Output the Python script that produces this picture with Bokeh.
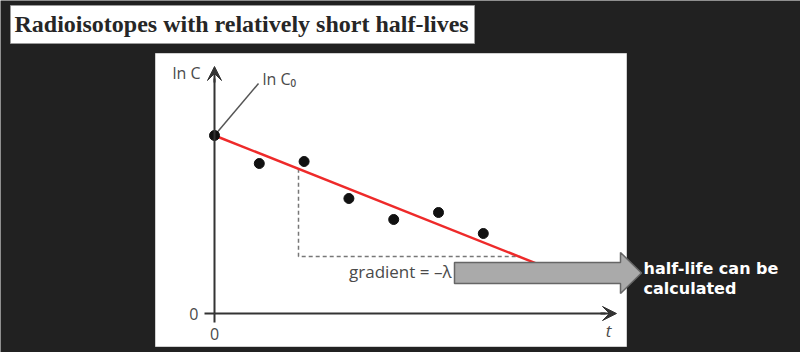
from bokeh.plotting import figure
from bokeh.models import Range1d, LinearAxis, FixedTicker, Arrow, VeeHead
from bokeh.core.properties import value
from bokeh.embed import file_html
from bokeh.resources import INLINE

# ---- data (arbitrary units) ----
t_points = [0, 1, 2, 3, 4, 5, 6]
lnC_points = [4.45, 3.75, 3.8, 2.875, 2.35, 2.525, 2.0]
fit_t = [0, 7.5]
fit_lnC = [4.45, 1.11]
tri_t = [1.875, 1.875, 6.83]
tri_lnC = [3.62, 1.425, 1.425]
x_tick_labels = {0: "0"}
y_tick_labels = {0: "0"}
title_text = "Radioisotopes with relatively short half-lives"
note_lines = ["half-life can be", "calculated"]

# ---- layout helpers (pixel -> data) ----
W, H = 800, 352
X0, SX = 214, 44.8
Y0, SY = 313, 40.0


def px_x(px):
    return (px - X0) / SX


def px_y(py):
    return (Y0 - py) / SY


BG = "#212121"
AX = "#333333"
TXT = "#4a4a4a"

p = figure(width=W, height=H, x_range=Range1d(px_x(0), px_x(W)),
           y_range=Range1d(px_y(H), px_y(0)), output_backend="svg",
           toolbar_location=None, x_axis_location=None, y_axis_location=None,
           min_border=0, background_fill_color=BG, border_fill_color=BG,
           outline_line_color=None)
p.xgrid.visible = False
p.ygrid.visible = False

# title box
p.quad(left=[px_x(10)], right=[px_x(474)], top=[px_y(5)], bottom=[px_y(43)],
       fill_color="white", line_color="#9a9a9a", line_width=1)
p.text(x=[px_x(14)], y=[px_y(23)], text=[title_text], text_font=value("Liberation Serif"),
       text_font_style="bold", text_font_size="24px", text_color="#262626",
       text_baseline="middle", text_align="left")

# white chart panel
p.quad(left=[px_x(155)], right=[px_x(626)], top=[px_y(53)], bottom=[px_y(346)],
       fill_color="white", line_color="#d0d0d0", line_width=1)

# axes through the origin
xaxis = LinearAxis(fixed_location=0, bounds=(0, px_x(605)), ticker=FixedTicker(ticks=[0]),
                   major_label_overrides=x_tick_labels, major_tick_out=9, major_tick_in=0,
                   major_tick_line_color=AX, major_tick_line_width=2,
                   axis_line_color=AX, axis_line_width=2, major_label_standoff=5,
                   major_label_text_font="Open Sans", major_label_text_font_size="16px",
                   major_label_text_color=TXT)
yaxis = LinearAxis(fixed_location=0, bounds=(0, px_y(78)), ticker=FixedTicker(ticks=[0]),
                   major_label_overrides=y_tick_labels, major_tick_out=10, major_tick_in=0,
                   major_tick_line_color=AX, major_tick_line_width=2,
                   axis_line_color=AX, axis_line_width=2, major_label_standoff=6,
                   major_label_text_font="Open Sans", major_label_text_font_size="16px",
                   major_label_text_color=TXT)
p.add_layout(xaxis, "below")
p.add_layout(yaxis, "left")
p.add_layout(Arrow(x_start=px_x(600), y_start=0, x_end=px_x(616), y_end=0,
                   line_color=AX, line_width=2,
                   end=VeeHead(size=14, fill_color=AX, line_color=AX)))
p.add_layout(Arrow(x_start=0, y_start=px_y(82), x_end=0, y_end=px_y(66),
                   line_color=AX, line_width=2,
                   end=VeeHead(size=14, fill_color=AX, line_color=AX)))

p.text(x=[px_x(200)], y=[px_y(72)], text=["ln C"], text_font=value("Open Sans"),
       text_font_size="16px", text_color=TXT, text_align="right", text_baseline="middle")
p.text(x=[px_x(608)], y=[px_y(330)], text=["t"], text_font=value("Open Sans"),
       text_font_style="italic", text_font_size="17px", text_color=TXT,
       text_align="center", text_baseline="middle")

# ln C0 leader
p.line(x=[0, px_x(258)], y=[lnC_points[0], px_y(83)], line_color="#555555", line_width=1.5)
p.text(x=[px_x(262)], y=[px_y(78)], text=["ln C₀"], text_font=value("Open Sans"),
       text_font_size="16px", text_color=TXT, text_align="left", text_baseline="middle")

# dashed triangle
p.line(x=tri_t, y=tri_lnC, line_color="#777777", line_width=1.5, line_dash="4 3")

# fitted line
p.line(x=fit_t, y=fit_lnC, line_color="#ee2a2a", line_width=2.5)

# points
p.scatter(x=t_points, y=lnC_points, size=10, fill_color="#111111", line_color="#111111")

p.text(x=[px_x(451)], y=[px_y(271)], text=["gradient = –λ"], text_font=value("Open Sans"),
       text_font_size="17px", text_color=TXT, text_align="right", text_baseline="middle")

# big gray arrow
ax_px = [454, 620, 620, 641, 620, 620, 454]
ay_px = [262, 262, 252, 272.5, 293, 283, 283]
p.patch(x=[px_x(v) for v in ax_px], y=[px_y(v) for v in ay_px],
        fill_color="#aaaaaa", line_color="#666666", line_width=1.5)

p.text(x=[px_x(643), px_x(643)], y=[px_y(268), px_y(288)], text=note_lines,
       text_font=value("DejaVu Sans"), text_font_style="bold", text_font_size="16px",
       text_color="white", text_align="left", text_baseline="middle")

open("out.html", "w").write(file_html(p, INLINE))
